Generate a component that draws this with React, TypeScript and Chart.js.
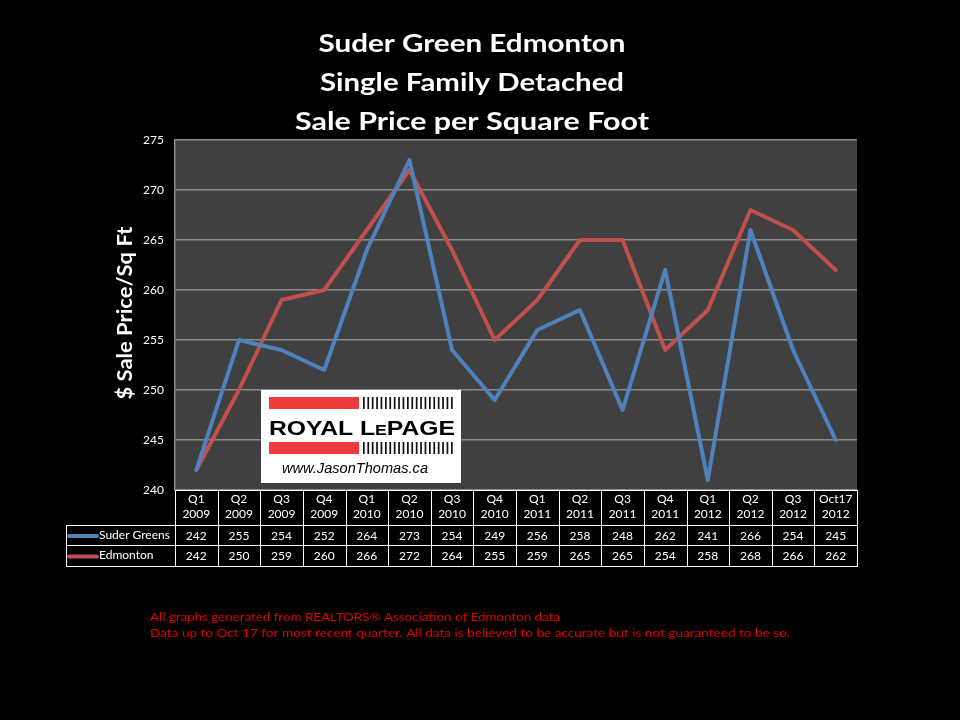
import React, { useEffect, useRef } from 'react';
import { Chart, registerables } from 'chart.js';

Chart.register(...registerables);

const quarterLabels = ['Q1', 'Q2', 'Q3', 'Q4', 'Q1', 'Q2', 'Q3', 'Q4', 'Q1', 'Q2', 'Q3', 'Q4', 'Q1', 'Q2', 'Q3', 'Oct17'];
const yearLabels = ['2009', '2009', '2009', '2009', '2010', '2010', '2010', '2010', '2011', '2011', '2011', '2011', '2012', '2012', '2012', '2012'];
const suderGreens = [242, 255, 254, 252, 264, 273, 254, 249, 256, 258, 248, 262, 241, 266, 254, 245];
const edmonton = [242, 250, 259, 260, 266, 272, 264, 255, 259, 265, 265, 254, 258, 268, 266, 262];
const seriesNames = ['Suder Greens', 'Edmonton'];
const yMin = 240;
const yMax = 275;
const yStep = 5;
const titleLines = ['Suder Green Edmonton', 'Single Family Detached', 'Sale Price per Square Foot'];
const yAxisTitle = '$ Sale Price/Sq Ft';
const footerLines = [
  'All graphs generated from REALTORS® Association of Edmonton data',
  'Data up to Oct 17 for most recent quarter. All data is believed to be accurate but is not guaranteed to be so.',
];

const FONT = 'Lato, "Open Sans", sans-serif';
const BLUE = '#4F81BD';
const RED = '#C0504D';

function fitText(ctx: CanvasRenderingContext2D, text: string, x: number, y: number, width: number, align: 'left' | 'center') {
  const w = ctx.measureText(text).width;
  const s = width / w;
  ctx.save();
  ctx.translate(x, y);
  ctx.scale(s, 1);
  ctx.textAlign = align;
  ctx.fillText(text, 0, 0);
  ctx.restore();
}

const decorPlugin = {
  id: 'decor',
  beforeDraw(chart: any) {
    const { ctx, chartArea } = chart;
    ctx.save();
    ctx.fillStyle = '#000000';
    ctx.fillRect(0, 0, chart.width, chart.height);
    ctx.fillStyle = '#404040';
    ctx.fillRect(chartArea.left, chartArea.top, chartArea.right - chartArea.left, chartArea.bottom - chartArea.top);
    ctx.restore();
  },
  afterDraw(chart: any) {
    const { ctx, chartArea } = chart;
    const xs = chart.scales.x;
    ctx.save();

    // Titles
    ctx.fillStyle = '#ffffff';
    ctx.font = `bold 24px ${FONT}`;
    ctx.textBaseline = 'alphabetic';
    const titleY = [51.5, 91, 130];
    const titleW = [307, 304, 354];
    titleLines.forEach((t, i) => fitText(ctx, t, 472, titleY[i], titleW[i], 'center'));

    // Y axis title
    ctx.save();
    ctx.translate(125, 313);
    ctx.rotate(-Math.PI / 2);
    ctx.font = `bold 21px ${FONT}`;
    ctx.textBaseline = 'middle';
    fitText(ctx, yAxisTitle, 0, 0, 173, 'center');
    ctx.restore();

    // Data table
    const n = quarterLabels.length;
    const left = chartArea.left;
    const right = chartArea.right;
    const colW = (right - left) / n;
    const top = chartArea.bottom;
    const r1 = 525;
    const r2 = 545;
    const r3 = 566;
    const legendLeft = 66;
    ctx.strokeStyle = '#ffffff';
    ctx.lineWidth = 1;
    ctx.beginPath();
    ctx.moveTo(left, top + 0.5);
    ctx.lineTo(right, top + 0.5);
    [r1, r2, r3].forEach((y) => {
      ctx.moveTo(legendLeft, y + 0.5);
      ctx.lineTo(right, y + 0.5);
    });
    for (let i = 0; i <= n; i++) {
      const x = Math.round(left + i * colW) + 0.5;
      ctx.moveTo(x, top);
      ctx.lineTo(x, r3 + 1);
    }
    ctx.moveTo(legendLeft + 0.5, r1);
    ctx.lineTo(legendLeft + 0.5, r3 + 1);
    ctx.stroke();

    ctx.fillStyle = '#ffffff';
    ctx.font = `12px ${FONT}`;
    ctx.textAlign = 'center';
    ctx.textBaseline = 'middle';
    for (let i = 0; i < n; i++) {
      const cx = xs.getPixelForValue(i);
      ctx.fillText(quarterLabels[i], cx, 499);
      ctx.fillText(yearLabels[i], cx, 514);
      ctx.fillText(String(suderGreens[i]), cx, 536);
      ctx.fillText(String(edmonton[i]), cx, 556);
    }

    // Legend keys in table
    const keyY = [536, 556.5];
    const keyColors = [BLUE, RED];
    ctx.lineCap = 'round';
    ctx.lineWidth = 4;
    keyY.forEach((y, i) => {
      ctx.strokeStyle = keyColors[i];
      ctx.beginPath();
      ctx.moveTo(69, y);
      ctx.lineTo(97, y);
      ctx.stroke();
    });
    ctx.fillStyle = '#ffffff';
    ctx.textAlign = 'left';
    ctx.font = `12px ${FONT}`;
    ctx.fillText(seriesNames[0], 99, 535);
    ctx.fillText(seriesNames[1], 99, 555.5);

    // Logo
    ctx.fillStyle = '#ffffff';
    ctx.fillRect(261, 390, 200, 93);
    ctx.fillStyle = '#EE3B3B';
    ctx.fillRect(269, 397, 90, 12);
    ctx.fillRect(269, 442, 90, 12);
    ctx.fillStyle = '#111111';
    for (let i = 0; i < 21; i++) {
      const sx = 363 + i * 4.4;
      ctx.fillRect(sx, 397, 1.7, 12);
      ctx.fillRect(sx, 442, 1.7, 12);
    }
    ctx.fillStyle = '#000000';
    ctx.textBaseline = 'alphabetic';
    ctx.textAlign = 'left';
    ctx.font = 'bold 21px "Liberation Sans", Arial, sans-serif';
    const p1 = 'ROYAL L';
    const p3 = 'PAGE';
    const w1 = ctx.measureText(p1).width;
    const w3 = ctx.measureText(p3).width;
    ctx.font = 'bold 15px "Liberation Sans", Arial, sans-serif';
    const w2 = ctx.measureText('E').width;
    const total = w1 + w2 + w3;
    const sc = 186 / total;
    ctx.save();
    ctx.translate(269, 434.5);
    ctx.scale(sc, 1);
    ctx.font = 'bold 21px "Liberation Sans", Arial, sans-serif';
    ctx.fillText(p1, 0, 0);
    ctx.font = 'bold 15px "Liberation Sans", Arial, sans-serif';
    ctx.fillText('E', w1, 0);
    ctx.font = 'bold 21px "Liberation Sans", Arial, sans-serif';
    ctx.fillText(p3, w1 + w2, 0);
    ctx.restore();
    ctx.font = 'italic 14px "Liberation Sans", Arial, sans-serif';
    ctx.textBaseline = 'middle';
    fitText(ctx, 'www.JasonThomas.ca', 282, 469, 146, 'left');

    // Footer
    ctx.fillStyle = '#E00000';
    ctx.font = `12px ${FONT}`;
    ctx.textBaseline = 'middle';
    fitText(ctx, footerLines[0], 150, 617, 410, 'left');
    fitText(ctx, footerLines[1], 150, 633, 640, 'left');

    ctx.restore();
  },
};

export default function App() {
  const canvasRef = useRef<HTMLCanvasElement | null>(null);

  useEffect(() => {
    const canvas = canvasRef.current;
    if (!canvas) return;
    const labels = quarterLabels.map((q, i) => `${q} ${yearLabels[i]}`);
    const chart = new Chart(canvas, {
      type: 'line',
      data: {
        labels,
        datasets: [
          {
            label: seriesNames[0],
            data: suderGreens,
            borderColor: BLUE,
            backgroundColor: BLUE,
            borderWidth: 4,
            pointRadius: 0,
            borderCapStyle: 'round',
            borderJoinStyle: 'round',
            tension: 0,
          },
          {
            label: seriesNames[1],
            data: edmonton,
            borderColor: RED,
            backgroundColor: RED,
            borderWidth: 4,
            pointRadius: 0,
            borderCapStyle: 'round',
            borderJoinStyle: 'round',
            tension: 0,
          },
        ],
      },
      options: {
        responsive: false,
        animation: false,
        devicePixelRatio: 1,
        layout: { padding: { left: 0, right: 103, top: 140, bottom: 230 }, autoPadding: false },
        plugins: {
          legend: { display: false },
          title: { display: false },
          tooltip: { enabled: false },
        },
        scales: {
          x: {
            type: 'category',
            display: false,
            offset: true,
          },
          y: {
            min: yMin,
            max: yMax,
            afterFit: (scale: any) => {
              scale.width = 175;
            },
            ticks: {
              stepSize: yStep,
              color: '#ffffff',
              font: { family: FONT, size: 12 },
              padding: 11,
            },
            grid: {
              color: '#8c8c8c',
              lineWidth: 1.5,
              drawTicks: false,
            },
            border: { display: true, color: '#8c8c8c', width: 1.5 },
          },
        },
      },
      plugins: [decorPlugin],
    });
    return () => chart.destroy();
  }, []);

  return (
    <div style={{ position: 'fixed', left: 0, top: 0, width: 960, height: 720, background: '#000' }}>
      <canvas ref={canvasRef} width={960} height={720} style={{ display: 'block' }} />
    </div>
  );
}
